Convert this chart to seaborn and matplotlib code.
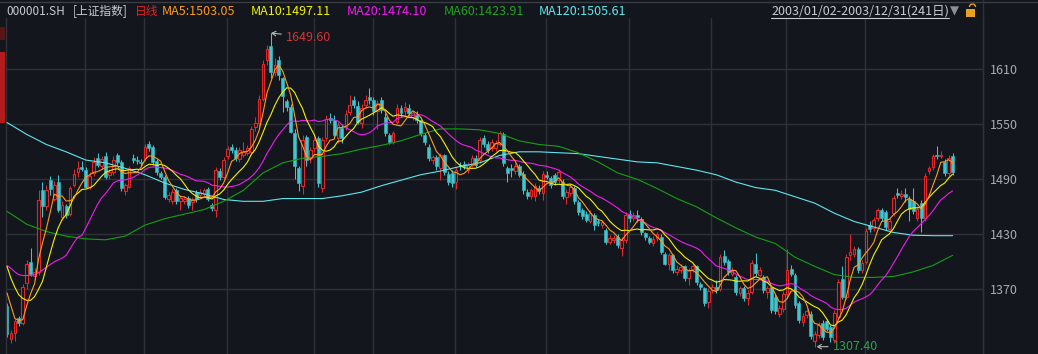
import seaborn as sns
import matplotlib.pyplot as plt
import matplotlib.lines as mlines
import matplotlib.patches as mpatches
import numpy as np
import pandas as pd

# daily OHLC of 000001.SH, 2003 (241 trading days)
opens = [1352, 1316, 1322, 1339, 1333, 1377, 1400, 1384, 1389, 1478,
         1461, 1489, 1469, 1487, 1449, 1461, 1452, 1484, 1498, 1503,
         1500, 1482, 1497, 1513, 1504, 1515, 1495, 1498, 1516, 1509,
         1477, 1482, 1513, 1511, 1509, 1513, 1529, 1525, 1510, 1497,
         1493, 1468, 1466, 1478, 1466, 1466, 1470, 1465, 1476, 1473,
         1474, 1479, 1462, 1457, 1499, 1493, 1515, 1525, 1522, 1512,
         1517, 1519, 1520, 1547, 1551, 1578, 1620, 1635, 1607, 1620,
         1600, 1575, 1569, 1540, 1502, 1483, 1536, 1513, 1524, 1535,
         1481, 1535, 1557, 1555, 1535, 1546, 1547, 1563, 1576, 1570,
         1551, 1571, 1580, 1577, 1564, 1576, 1558, 1538, 1531, 1553,
         1568, 1564, 1568, 1558, 1560, 1555, 1538, 1525, 1511, 1514,
         1502, 1516, 1496, 1497, 1487, 1506, 1507, 1500, 1506, 1513,
         1511, 1535, 1529, 1524, 1524, 1529, 1539, 1502, 1502, 1499,
         1504, 1496, 1476, 1472, 1472, 1481, 1475, 1495, 1491, 1495,
         1489, 1487, 1471, 1475, 1480, 1465, 1456, 1452, 1445, 1451,
         1444, 1440, 1435, 1422, 1424, 1427, 1415, 1424, 1452, 1448,
         1451, 1447, 1431, 1426, 1420, 1426, 1427, 1409, 1398, 1407,
         1389, 1391, 1395, 1382, 1392, 1395, 1376, 1371, 1356, 1369,
         1372, 1370, 1406, 1401, 1387, 1383, 1366, 1371, 1361, 1367,
         1398, 1386, 1383, 1367, 1372, 1362, 1343, 1348, 1365, 1392,
         1386, 1355, 1334, 1342, 1343, 1314, 1320, 1333, 1335, 1329,
         1315, 1340, 1381, 1362, 1407, 1409, 1414, 1391, 1400, 1440,
         1437, 1448, 1456, 1454, 1436, 1453, 1475, 1472, 1474, 1469,
         1466, 1448, 1464, 1448, 1499, 1503, 1517, 1515, 1509, 1497,
         1515]
highs = [1355, 1326, 1338, 1341, 1376, 1402, 1415, 1393, 1478, 1487,
         1484, 1494, 1488, 1495, 1466, 1463, 1483, 1501, 1510, 1510,
         1503, 1498, 1514, 1519, 1515, 1520, 1501, 1515, 1519, 1511,
         1486, 1505, 1518, 1515, 1512, 1528, 1532, 1527, 1512, 1499,
         1495, 1476, 1479, 1480, 1473, 1472, 1472, 1471, 1478, 1479,
         1481, 1482, 1464, 1503, 1502, 1514, 1526, 1528, 1525, 1525,
         1531, 1527, 1548, 1558, 1582, 1620, 1636, 1649.6, 1622, 1624,
         1602, 1578, 1572, 1545, 1505, 1538, 1538, 1525, 1536, 1537,
         1536, 1560, 1562, 1560, 1553, 1550, 1566, 1582, 1581, 1575,
         1572, 1582, 1590, 1580, 1577, 1580, 1562, 1540, 1543, 1572,
         1571, 1574, 1572, 1566, 1564, 1558, 1540, 1528, 1517, 1516,
         1519, 1518, 1499, 1500, 1503, 1509, 1510, 1509, 1516, 1516,
         1536, 1538, 1532, 1534, 1533, 1543, 1542, 1505, 1507, 1508,
         1507, 1499, 1479, 1481, 1486, 1484, 1499, 1499, 1494, 1497,
         1501, 1490, 1479, 1485, 1483, 1467, 1459, 1455, 1456, 1453,
         1447, 1446, 1437, 1429, 1429, 1430, 1427, 1454, 1457, 1454,
         1456, 1449, 1433, 1428, 1428, 1433, 1430, 1411, 1410, 1409,
         1397, 1398, 1397, 1393, 1398, 1397, 1378, 1373, 1371, 1376,
         1380, 1408, 1413, 1403, 1394, 1386, 1374, 1374, 1369, 1402,
         1410, 1394, 1386, 1374, 1375, 1365, 1353, 1368, 1414, 1396,
         1388, 1357, 1344, 1349, 1346, 1324, 1334, 1336, 1338, 1331,
         1347, 1381, 1395, 1408, 1430, 1417, 1416, 1402, 1437, 1444,
         1449, 1459, 1459, 1457, 1448, 1473, 1480, 1478, 1480, 1472,
         1480, 1461, 1467, 1497, 1505, 1518, 1526, 1521, 1512, 1516,
         1519]
lows = [1318, 1311, 1314, 1330, 1331, 1370, 1384, 1380, 1386, 1449,
        1456, 1473, 1466, 1454, 1446, 1448, 1450, 1482, 1492, 1499,
        1480, 1479, 1494, 1503, 1501, 1490, 1490, 1495, 1506, 1477,
        1473, 1480, 1508, 1507, 1504, 1510, 1521, 1506, 1495, 1490,
        1468, 1465, 1463, 1463, 1456, 1463, 1459, 1457, 1465, 1470,
        1471, 1466, 1455, 1449, 1489, 1490, 1512, 1519, 1510, 1509,
        1514, 1516, 1517, 1543, 1548, 1575, 1615, 1600, 1603, 1598,
        1563, 1565, 1540, 1490, 1477, 1474, 1505, 1508, 1520, 1482,
        1476, 1532, 1551, 1535, 1530, 1530, 1544, 1560, 1568, 1550,
        1546, 1568, 1572, 1560, 1545, 1562, 1537, 1528, 1528, 1550,
        1558, 1560, 1559, 1555, 1551, 1537, 1527, 1510, 1507, 1500,
        1489, 1495, 1484, 1482, 1479, 1500, 1501, 1497, 1503, 1503,
        1508, 1525, 1519, 1521, 1521, 1526, 1505, 1487, 1492, 1496,
        1492, 1474, 1469, 1469, 1466, 1474, 1467, 1490, 1481, 1484,
        1486, 1469, 1463, 1472, 1463, 1451, 1447, 1443, 1442, 1435,
        1439, 1437, 1419, 1419, 1421, 1415, 1406, 1421, 1443, 1445,
        1443, 1429, 1424, 1419, 1417, 1423, 1408, 1396, 1391, 1388,
        1386, 1388, 1379, 1375, 1389, 1375, 1369, 1352, 1350, 1366,
        1366, 1368, 1397, 1386, 1384, 1364, 1363, 1357, 1353, 1365,
        1385, 1383, 1366, 1360, 1344, 1343, 1340, 1345, 1362, 1384,
        1350, 1333, 1330, 1339, 1316, 1307.4, 1317, 1315, 1324, 1312,
        1311, 1338, 1359, 1359, 1402, 1405, 1388, 1388, 1398, 1432,
        1434, 1445, 1445, 1435, 1433, 1450, 1470, 1469, 1465, 1445,
        1452, 1444, 1432, 1445, 1496, 1500, 1512, 1513, 1494, 1494,
        1495]
closes = [1321, 1322, 1335, 1333, 1373, 1398, 1387, 1389, 1467, 1461,
          1478, 1479, 1484, 1456, 1462, 1451, 1480, 1496, 1502, 1501,
          1482, 1494, 1509, 1506, 1512, 1493, 1498, 1511, 1509, 1480,
          1484, 1502, 1511, 1510, 1508, 1525, 1524, 1509, 1498, 1493,
          1471, 1473, 1476, 1466, 1470, 1469, 1462, 1468, 1468, 1476,
          1478, 1469, 1459, 1500, 1492, 1511, 1523, 1522, 1513, 1522,
          1520, 1524, 1545, 1551, 1578, 1616, 1632, 1607, 1615, 1604,
          1581, 1569, 1542, 1504, 1486, 1533, 1511, 1522, 1533, 1486,
          1533, 1556, 1555, 1538, 1549, 1535, 1561, 1571, 1571, 1553,
          1568, 1576, 1577, 1564, 1573, 1566, 1540, 1531, 1540, 1568,
          1562, 1569, 1562, 1562, 1555, 1540, 1531, 1513, 1514, 1504,
          1516, 1498, 1487, 1486, 1500, 1504, 1505, 1506, 1513, 1506,
          1533, 1528, 1522, 1531, 1530, 1540, 1508, 1497, 1500, 1504,
          1495, 1478, 1472, 1478, 1483, 1477, 1496, 1493, 1484, 1487,
          1498, 1472, 1476, 1482, 1466, 1454, 1450, 1446, 1453, 1440,
          1442, 1443, 1422, 1426, 1426, 1418, 1424, 1451, 1448, 1451,
          1449, 1432, 1427, 1422, 1425, 1430, 1411, 1398, 1407, 1391,
          1392, 1394, 1382, 1391, 1395, 1378, 1372, 1355, 1368, 1373,
          1369, 1405, 1400, 1389, 1391, 1367, 1371, 1360, 1366, 1399,
          1388, 1391, 1369, 1371, 1347, 1346, 1350, 1365, 1391, 1387,
          1353, 1337, 1341, 1346, 1319, 1321, 1331, 1318, 1327, 1318,
          1344, 1378, 1362, 1405, 1411, 1414, 1391, 1399, 1434, 1436,
          1446, 1456, 1448, 1438, 1445, 1470, 1473, 1474, 1471, 1458,
          1455, 1458, 1448, 1494, 1502, 1515, 1515, 1517, 1497, 1513,
          1498]

# moving-average values at the start of the year (need 2002 data)
ma5_head = [1366, 1352, 1338, 1336]
ma10_head = [1395, 1382, 1372, 1364, 1360, 1358, 1358, 1362, 1370]
ma20_head = [1396, 1393, 1389, 1386, 1385, 1385, 1385, 1386, 1388, 1391,
             1394, 1397, 1400, 1402, 1404, 1407, 1414, 1421, 1427]

# MA60 / MA120 every 5 trading days
ma_days = list(range(0, 241, 5))
ma60 = [1455, 1441, 1433, 1428, 1425, 1424, 1428, 1440, 1447, 1452,
        1457, 1466, 1478, 1497, 1508, 1513, 1515, 1518, 1523, 1527,
        1532, 1539, 1545, 1545, 1544, 1540, 1532, 1528, 1526, 1519,
        1509, 1497, 1490, 1480, 1469, 1460, 1448, 1437, 1427, 1420,
        1405, 1395, 1386, 1383, 1383, 1384, 1389, 1396, 1407]
ma120 = [1552, 1539, 1528, 1520, 1511, 1508, 1502, 1495, 1486, 1479,
         1474, 1468, 1466, 1466, 1469, 1469, 1469, 1472, 1476, 1483,
         1489, 1495, 1499, 1504, 1508, 1516, 1520, 1520, 1519, 1518,
         1515, 1512, 1509, 1508, 1504, 1500, 1495, 1487, 1481, 1478,
         1471, 1464, 1453, 1444, 1438, 1432, 1429, 1428.5, 1428.5]

# first trading day of Feb..Dec
month_starts = [20, 35, 56, 78, 93, 114, 137, 158, 179, 198, 218]
price_ticks = [1610, 1550, 1490, 1430, 1370]

BG = '#13161c'
GRID = '#2e3138'
UP = '#e02828'
DOWN = '#3fc6cf'
C_MA5, C_MA10, C_MA20 = '#ff9a1c', '#f2f200', '#f01cf0'
C_MA60, C_MA120 = '#14a014', '#5ee6ee'

sns.set_style('dark', {'axes.facecolor': BG, 'figure.facecolor': BG})
plt.rcParams['font.family'] = ['Noto Sans CJK SC', 'DejaVu Sans']

W, H = 1038, 354
fig = plt.figure(figsize=(W / 100, H / 100), dpi=100)
fig.patch.set_facecolor(BG)

def fx(x):
    return x / W

def fy(y):
    return 1 - y / H

ax = fig.add_axes([fx(6), 0, fx(983) - fx(6), fy(18)])
ax.set_facecolor(BG)

df = pd.DataFrame({'open': opens, 'high': highs, 'low': lows, 'close': closes})
df['day'] = np.arange(len(df))
df['up'] = df['close'] >= df['open']
df['top'] = df[['open', 'close']].max(axis=1)
df['bot'] = df[['open', 'close']].min(axis=1)

s = df['close']
ma5 = s.rolling(5).mean().values
ma10 = s.rolling(10).mean().values
ma20 = s.rolling(20).mean().values
ma5[:len(ma5_head)] = ma5_head
ma10[:len(ma10_head)] = ma10_head
ma20[:len(ma20_head)] = ma20_head

# grid
for p in price_ticks:
    ax.axhline(p, color=GRID, lw=1.0, zorder=0)
for d in month_starts:
    ax.axvline(d - 0.2, color=GRID, lw=1.0, zorder=0)

# candles
up = df[df['up']]
dn = df[~df['up']]
for part, col in [(up, UP), (dn, DOWN)]:
    ax.vlines(part['day'], part['low'], part['bot'], color=col, lw=0.75, zorder=2)
    ax.vlines(part['day'], part['top'], part['high'], color=col, lw=0.75, zorder=2)
h_up = np.maximum(up['top'] - up['bot'], 0.6)
h_dn = np.maximum(dn['top'] - dn['bot'], 0.6)
ax.bar(up['day'], h_up, bottom=up['bot'], width=0.68, facecolor=BG,
       edgecolor=UP, linewidth=0.8, zorder=2)
ax.bar(dn['day'], h_dn, bottom=dn['bot'], width=0.76, facecolor=DOWN,
       edgecolor=DOWN, linewidth=0.4, zorder=2)

# moving averages
days = df['day'].values
for vals, col in [(ma120, C_MA120), (ma60, C_MA60)]:
    sns.lineplot(x=ma_days, y=vals, ax=ax, color=col, lw=0.8, zorder=3)
for vals, col in [(ma20, C_MA20), (ma10, C_MA10), (ma5, C_MA5)]:
    sns.lineplot(x=days, y=vals, ax=ax, color=col, lw=0.8, zorder=3)

# high / low markers
hi = int(np.argmax(highs))
lo = int(np.argmin(lows))
ax.annotate(f'{highs[hi]:.2f}', xy=(hi, highs[hi]), xytext=(15, -4),
            textcoords='offset pixels', ha='left', va='center', color='#d23434',
            fontsize=9, arrowprops=dict(arrowstyle='->,head_length=0.3,head_width=0.18',
                                        color='#b8b8b8', lw=0.8, shrinkA=1, shrinkB=0))
ax.annotate(f'{lows[lo]:.2f}', xy=(lo + 0.5, lows[lo]), xytext=(16, 0),
            textcoords='offset pixels', ha='left', va='center', color='#2ea04a',
            fontsize=9, arrowprops=dict(arrowstyle='->,head_length=0.3,head_width=0.18',
                                        color='#b8b8b8', lw=0.8, shrinkA=1, shrinkB=0))

ax.set_xlim((6 - 7) / 3.94, (983 - 7) / 3.94)
ax.set_ylim(1299.4, 1666.0)
ax.set_xticks([])
ax.yaxis.tick_right()
ax.set_yticks(price_ticks)
ax.set_yticklabels([str(p) for p in price_ticks], color='#a8acb3', fontsize=9)
ax.tick_params(axis='y', length=0, pad=5)
ax.set_xlabel('')
ax.set_ylabel('')
for sp in ['top', 'bottom']:
    ax.spines[sp].set_visible(False)
for sp in ['left', 'right']:
    ax.spines[sp].set_color(GRID)
    ax.spines[sp].set_linewidth(1.0)
if ax.get_legend():
    ax.get_legend().remove()

# frame lines and left strip
fig.add_artist(mlines.Line2D([0, 1], [fy(1.5), fy(1.5)], color='#3a3d44', lw=1.0))
fig.add_artist(mlines.Line2D([fx(983), fx(983)], [0, 1], color=GRID, lw=1.0))
fig.add_artist(mpatches.Rectangle((0, fy(123)), fx(5), fy(52) - fy(123), color='#b41c1c', lw=0))
fig.add_artist(mpatches.Rectangle((0, fy(40)), fx(5), fy(27) - fy(40), color='#561616', lw=0))

# header
hdr_y = fy(11.5)
header = [(6.5, '000001.SH', '#c8ccd2', 8.5), (73, '[上证指数]', '#c8ccd2', 8.5),
          (135, '日线', '#e02424', 8.5),
          (162, 'MA5:1503.05', C_MA5, 9), (251, 'MA10:1497.11', C_MA10, 9),
          (347, 'MA20:1474.10', C_MA20, 9), (444, 'MA60:1423.91', '#1fa31f', 9),
          (539, 'MA120:1505.61', C_MA120, 9)]
for x, txt, col, fs in header:
    fig.text(fx(x), hdr_y, txt, color=col, fontsize=fs, ha='left', va='center')
fig.text(fx(771), hdr_y, '2003/01/02-2003/12/31(241日)', color='#c8ccd2',
         fontsize=9, ha='left', va='center')
fig.add_artist(mlines.Line2D([fx(771), fx(949)], [fy(17.5), fy(17.5)], color='#c8ccd2', lw=0.8))
fig.text(fx(950), hdr_y, '▼', color='#8d9096', fontsize=8.5, ha='left', va='center',
         family='DejaVu Sans')
fig.add_artist(mpatches.Rectangle((fx(966), fy(17)), fx(9), fy(9) - fy(17), color='#e8a21e', lw=0))
fig.add_artist(mpatches.Arc((fx(972.5), fy(7)), fx(6), 6 / H, theta1=0, theta2=180,
                            color='#e8a21e', lw=1.0))

fig.savefig('out.png', dpi=100, facecolor=BG)
